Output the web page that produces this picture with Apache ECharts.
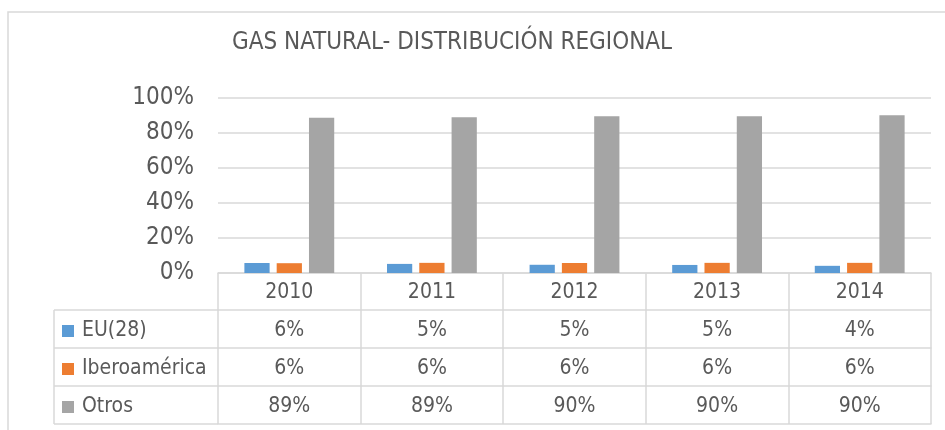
<!DOCTYPE html>
<html>
<head>
<meta charset="utf-8">
<title>Gas natural - distribución regional</title>
<script src="https://cdn.jsdelivr.net/npm/echarts@6/dist/echarts.min.js"></script>
<style>
    html, body { margin: 0; padding: 0; background: #fff; }
    #main { width: 945px; height: 430px; }
</style>
</head>
<body>
<div id="main"></div>
<script>
// datos
const years = ['2010', '2011', '2012', '2013', '2014']
const seriesNames = ['EU(28)', 'Iberoamérica', 'Otros']
const eu = [5.7, 5.2, 4.7, 4.6, 4.1]
const ibero = [5.6, 5.8, 5.7, 5.8, 5.8]
const otros = [88.7, 89.0, 89.6, 89.6, 90.1]
const yTicks = [0, 20, 40, 60, 80, 100]

const colors = ['#5B9BD5', '#ED7D31', '#A5A5A5']
const textColor = '#595959'
const lineColor = '#D9D9D9'
const font = '"DejaVu Sans Condensed", "DejaVu Sans", sans-serif'

// layout de la tabla
const gridLeft = 218
const gridRight = 14
const gridTop = 98
const axisY = 273
const headerH = 37
const rowH = 38
const legendLeft = 54

const pct = v => Math.round(v) + '%'
const rows = [eu, ibero, otros]

const chart = echarts.init(document.getElementById('main'))

// eje x base (años) + un eje por fila de la tabla
const xAxes = [{
    type: 'category',
    data: years,
    position: 'bottom',
    offset: 0,
    axisLine: { lineStyle: { color: lineColor, width: 1.5 } },
    axisTick: { show: true, interval: 0, length: headerH, lineStyle: { color: lineColor, width: 1.5 } },
    axisLabel: { color: textColor, fontSize: 21, fontFamily: font, margin: 9, interval: 0 },
    splitLine: { show: false }
}]
rows.forEach((vals, r) => {
    xAxes.push({
        type: 'category',
        data: years,
        position: 'bottom',
        offset: headerH + r * rowH,
        axisLine: { lineStyle: { color: lineColor, width: 1.5 } },
        axisTick: { show: true, interval: 0, length: rowH, lineStyle: { color: lineColor, width: 1.5 } },
        axisLabel: {
            color: textColor, fontSize: 21, fontFamily: font, margin: 10, interval: 0,
            formatter: (v, i) => pct(vals[i])
        }
    })
})
// línea inferior de la tabla
xAxes.push({
    type: 'category',
    data: years,
    position: 'bottom',
    offset: headerH + rows.length * rowH,
    axisLine: { lineStyle: { color: lineColor, width: 1.5 } },
    axisTick: { show: false },
    axisLabel: { show: false }
})

// bordes de la columna de leyenda
const tableBottom = axisY + headerH + rows.length * rowH
const graphics = [{
    type: 'rect',
    shape: { x: 8, y: 12, width: 1200, height: 1000 },
    style: { fill: 'none', stroke: lineColor, lineWidth: 1.5 },
    silent: true
}, {
    type: 'line',
    shape: { x1: legendLeft, y1: axisY + headerH, x2: legendLeft, y2: tableBottom },
    style: { stroke: lineColor, lineWidth: 1.5 },
    silent: true
}]
for (let r = 0; r <= rows.length; r++) {
    const y = axisY + headerH + r * rowH
    graphics.push({
        type: 'line',
        shape: { x1: legendLeft, y1: y, x2: gridLeft, y2: y },
        style: { stroke: lineColor, lineWidth: 1.5 },
        silent: true
    })
}

chart.setOption({
    animation: false,
    color: colors,
    title: {
        text: 'GAS NATURAL- DISTRIBUCIÓN REGIONAL',
        left: 232,
        top: 31,
        padding: 0,
        textStyle: { color: textColor, fontSize: 24, fontWeight: 'normal', fontFamily: font }
    },
    tooltip: {
        trigger: 'axis',
        valueFormatter: v => v + '%'
    },
    legend: {
        orient: 'vertical',
        left: 62,
        top: axisY + headerH + 9,
        padding: 0,
        itemWidth: 12,
        itemHeight: 12,
        itemGap: rowH - 24,
        icon: 'rect',
        data: seriesNames,
        textStyle: { color: textColor, fontSize: 21, fontFamily: font, lineHeight: 24, padding: [0, 0, 0, 3] }
    },
    grid: {
        left: gridLeft,
        right: gridRight,
        top: gridTop,
        bottom: 430 - axisY
    },
    xAxis: xAxes,
    yAxis: {
        type: 'value',
        min: yTicks[0],
        max: yTicks[yTicks.length - 1],
        interval: yTicks[1] - yTicks[0],
        axisLine: { show: false },
        axisTick: { show: false },
        axisLabel: { color: textColor, fontSize: 24, fontFamily: font, margin: 24, formatter: '{value}%' },
        splitLine: { lineStyle: { color: lineColor, width: 1.5 } }
    },
    graphic: graphics,
    series: [
        { name: seriesNames[0], type: 'bar', data: eu, barGap: '28%', barCategoryGap: '37%' },
        { name: seriesNames[1], type: 'bar', data: ibero, barGap: '28%', barCategoryGap: '37%' },
        { name: seriesNames[2], type: 'bar', data: otros, barGap: '28%', barCategoryGap: '37%' }
    ]
})
</script>
</body>
</html>
